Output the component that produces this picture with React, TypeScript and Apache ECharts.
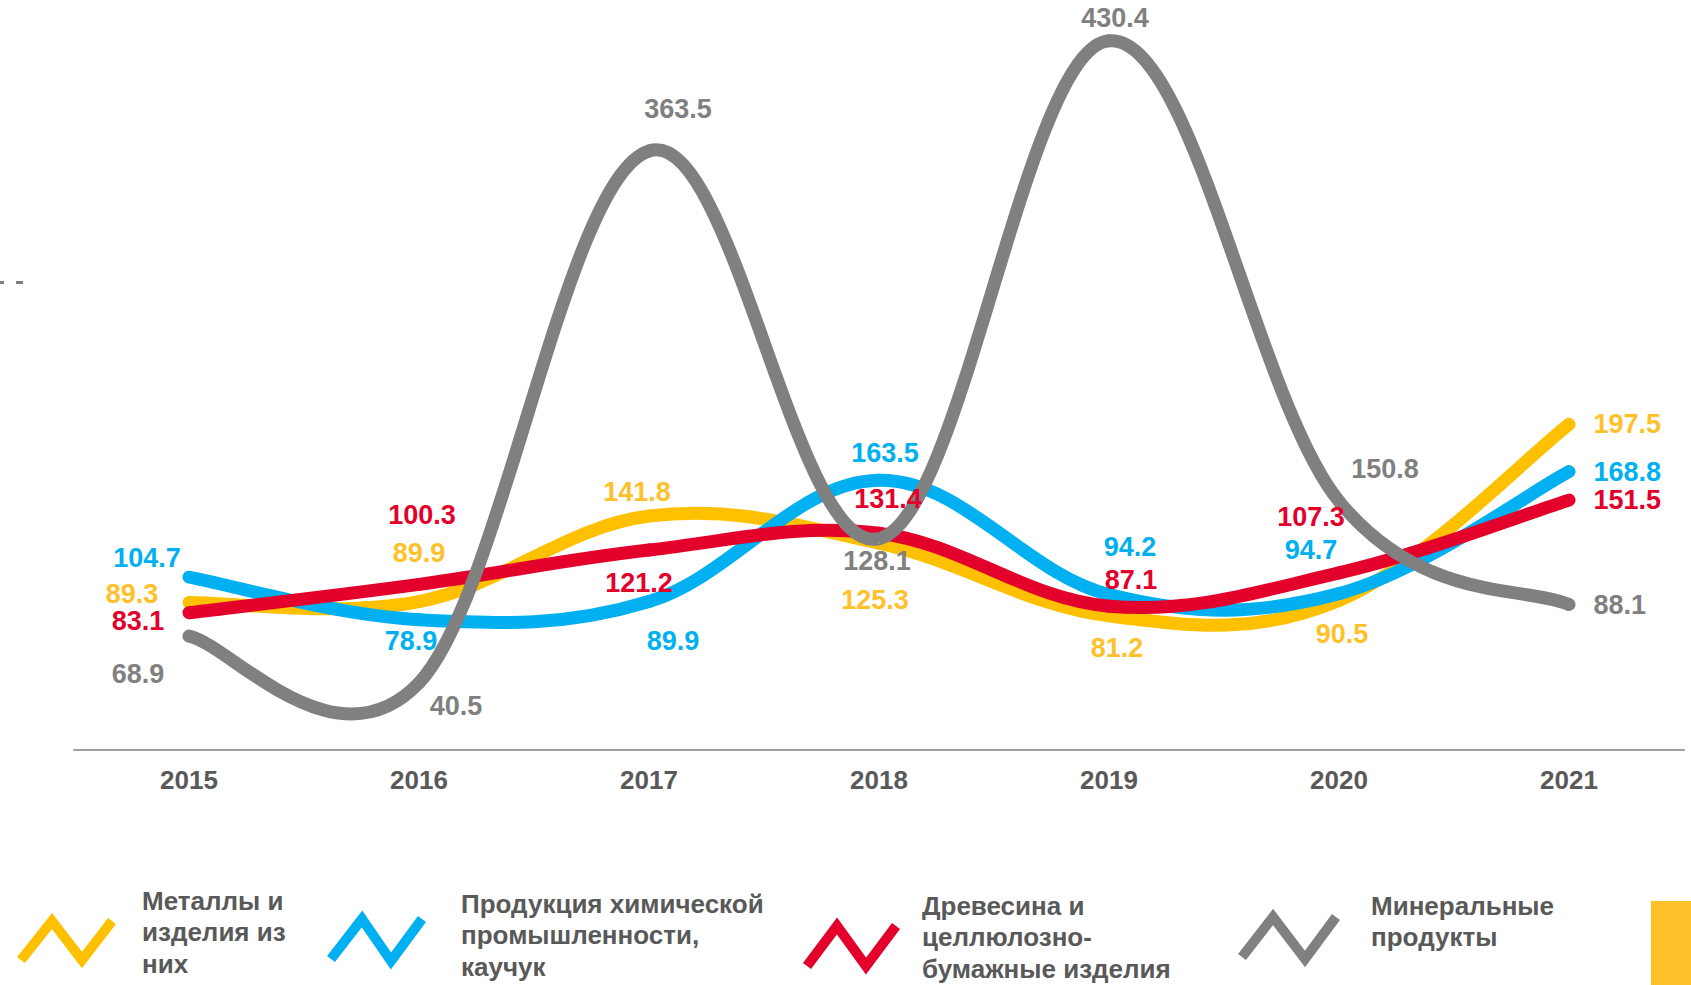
import React, { useEffect, useRef } from "react";
import * as echarts from "echarts";

// ---- data ----
const years = ["2015", "2016", "2017", "2018", "2019", "2020", "2021"];
const seriesNames = [
  "Металлы и\nизделия из\nних",
  "Продукция химической\nпромышленности,\nкаучук",
  "Древесина и\nцеллюлозно-\nбумажные изделия",
  "Минеральные\nпродукты",
];
const metals = [89.3, 89.9, 141.8, 125.3, 81.2, 90.5, 197.5];
const chemicals = [104.7, 78.9, 89.9, 163.5, 94.2, 94.7, 168.8];
const wood = [83.1, 100.3, 121.2, 131.4, 87.1, 107.3, 151.5];
const minerals = [68.9, 40.5, 363.5, 128.1, 430.4, 150.8, 88.1];

// ---- layout / style config ----
const colors = ["#FFC000", "#00B0F0", "#E3002B", "#808080"];
const labelColors = ["#FFC12B", "#00B0F0", "#E3002B", "#808080"];
const labelOffsets: number[][][] = [
  [[-57, -9], [0, -49], [-12, -24], [-4, 57], [8, 32], [3, 33]],
  [[-42, -19], [-8, 21], [24, 39], [6, -27], [21, -47], [-28, -44]],
  [[-51, 8], [3, -69], [-10, 33], [9, -34], [22, -26], [-28, -56]],
  [[-51, 38], [37, 23], [29, -42], [-2, 22], [6, -23], [46, -32]],
];
const legendIcons: number[][][] = [
  [[21, 960], [52, 921], [82, 960], [112, 921]],
  [[331, 959], [362, 919], [391, 961], [422, 919]],
  [[807, 966], [837, 926], [866, 966], [896, 926]],
  [[1242, 957], [1273, 917], [1305, 959], [1336, 917]],
];
const legendTextPos: number[][] = [
  [142, 885],
  [461, 888],
  [922, 890],
  [1371, 890],
];
const TENSION = 1 / 5.5;

const FONT = "'Liberation Sans', Arial, sans-serif";

export default function App() {
  const ref = useRef<HTMLDivElement>(null);
  useEffect(() => {
    if (!ref.current) return;
    const chart = echarts.init(ref.current, undefined, { renderer: "svg" });
    const all = [metals, chemicals, wood, minerals];

    // Smooth curves (Catmull-Rom style, through every point) drawn via custom series
    const curveSeries = all.map((vals, s) => ({
      type: "custom",
      name: seriesNames[s] + "-curve",
      z: 2 + s,
      silent: true,
      data: vals.map((v, i) => [i, v]),
      renderItem: (params: any, api: any) => {
        const i = params.dataIndex;
        const n = vals.length;
        if (i >= n - 1) return null;
        const p = (k: number) => {
          const kk = Math.max(0, Math.min(n - 1, k));
          return api.coord([kk, vals[kk]]);
        };
        const p0 = p(i - 1), p1 = p(i), p2 = p(i + 1), p3 = p(i + 2);
        return {
          type: "bezierCurve",
          shape: {
            x1: p1[0],
            y1: p1[1],
            x2: p2[0],
            y2: p2[1],
            cpx1: p1[0] + (p2[0] - p0[0]) * TENSION,
            cpy1: p1[1] + (p2[1] - p0[1]) * TENSION,
            cpx2: p2[0] - (p3[0] - p1[0]) * TENSION,
            cpy2: p2[1] - (p3[1] - p1[1]) * TENSION,
          },
          style: {
            stroke: colors[s],
            lineWidth: 13,
            fill: null,
            lineCap: "round",
          },
        };
      },
    }));

    // Invisible-line series carrying the data labels
    const labelSeries = all.map((vals, s) => ({
      type: "line",
      name: seriesNames[s],
      symbol: "circle",
      symbolSize: 1,
      showSymbol: true,
      z: 20,
      lineStyle: { width: 0, opacity: 0 },
      itemStyle: { color: colors[s] },
      label: {
        show: true,
        color: labelColors[s],
        fontFamily: FONT,
        fontWeight: "bold",
        fontSize: 27,
        formatter: (p: any) => Number(p.value).toFixed(1),
      },
      data: vals.map((v, i) => ({
        value: v,
        label:
          i === vals.length - 1
            ? { position: "right", distance: 24 }
            : { position: "inside", offset: labelOffsets[s][i] },
      })),
    }));

    const graphic: any[] = [
      { type: "rect", shape: { x: 0, y: 281, width: 4, height: 3 }, style: { fill: "#7f7f7f" } },
      { type: "rect", shape: { x: 16, y: 281, width: 7, height: 3 }, style: { fill: "#7f7f7f" } },
      { type: "rect", shape: { x: 1651, y: 901, width: 40, height: 84 }, style: { fill: "#FFC12B" } },
    ];
    legendIcons.forEach((pts, s) => {
      graphic.push({
        type: "polyline",
        shape: { points: pts },
        style: { stroke: colors[s], lineWidth: 10, fill: null, lineJoin: "miter" },
      });
      graphic.push({
        type: "text",
        x: legendTextPos[s][0],
        y: legendTextPos[s][1],
        style: {
          text: seriesNames[s],
          fill: "#595959",
          font: `bold 26px ${FONT}`,
          lineHeight: 31.5,
          verticalAlign: "top",
          align: "left",
        },
      });
    });

    chart.setOption({
      animation: false,
      backgroundColor: "#ffffff",
      grid: { left: 74, right: 7, top: 8.5, bottom: 235.4 },
      xAxis: {
        type: "category",
        data: years,
        boundaryGap: true,
        axisLine: { show: true, lineStyle: { color: "#A0A0A0", width: 2 } },
        axisTick: { show: false },
        axisLabel: {
          color: "#595959",
          fontFamily: FONT,
          fontWeight: "bold",
          fontSize: 26,
          margin: 17,
        },
      },
      yAxis: {
        type: "value",
        min: 0,
        max: 450,
        show: false,
        splitLine: { show: false },
      },
      series: [...curveSeries, ...labelSeries],
      graphic,
    });
    return () => chart.dispose();
  }, []);
  return (
    <div
      ref={ref}
      style={{ position: "fixed", left: 0, top: 0, width: 1691, height: 985, background: "#fff" }}
    />
  );
}
